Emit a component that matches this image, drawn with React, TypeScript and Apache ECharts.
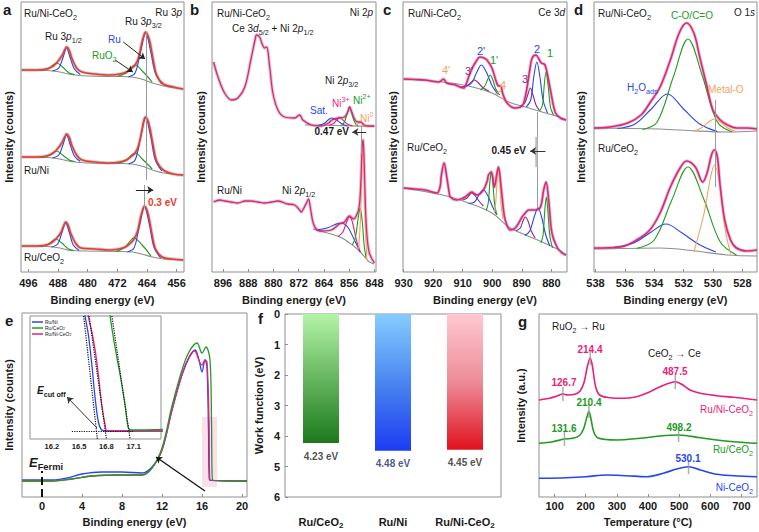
import React, { useEffect, useRef } from 'react';
import * as echarts from 'echarts';

const FONT = 'Arial, "Liberation Sans", Helvetica, sans-serif';
const RED = '#ef3a2e', MAG = '#ea1e7c', BLUE = '#2845f2', GREEN = '#229a22', ORANGE = '#f5a25d', PURPLE = '#8b2a8b';
const BGC = '#8e8e8e', RAW = 'rgba(150,150,150,0.45)', INK = '#1a1a1a', FRAME = '#8f8f8f';

// ---------- a: Ru 3p (binding energy eV, intensity a.u.) ----------
const aTicks = [496, 488, 480, 472, 464, 456];
const aEnv1 = [[497.8,202],[494,202],[491.1,203],[489.3,206],[488.4,209],[487.0,216],[486.2,222],[485.7,225],[485.0,222],[484.3,214],[483.0,204],[481.5,200],[478,198],[474,197],[471.3,198],[469.5,200],[468.1,204],[467.2,207],[466.3,214],[465.4,229],[464.8,237],[464.35,240],[463.8,237],[463.2,230],[462.3,212],[461.4,197],[459.6,188],[456.9,185],[454.2,183]];
const aBg1 = [[497.8,202],[491,201.5],[487.5,200],[484.5,197.5],[480,196],[472,195.5],[468,195],[465.5,193],[462.5,189],[459.5,186],[454.2,183]];
const aRuA1 = [[489.5,201],[487.8,204],[486.7,214],[485.7,224],[484.7,214],[483.6,203],[482,197.5]];
const aOxA1 = [[492.5,201.5],[490.5,203.5],[488.4,209],[486.8,205],[485,199],[483.5,197.5]];
const aRuB1 = [[469,195],[467.2,199],[465.8,219],[464.35,239],[463,221],[461.8,200],[460,188]];
const aOxB1 = [[472,195.5],[469.6,199],[467.2,207],[465,200],[462.6,190]];

const aEnv2 = [[497.8,115],[494,115],[491.1,116],[489.3,119],[488.4,122],[487.0,129],[486.2,135],[485.7,138],[485.0,135],[484.3,127],[483.0,117],[481.5,112],[478,110],[474,109],[471.3,110],[469.5,112],[468.1,116],[467.2,119],[466.3,126],[465.4,141],[464.8,152],[464.35,155],[463.8,152],[463.2,144],[462.3,126],[461.4,111],[459.6,102],[456.9,98],[454.2,97]];
const aBg2 = [[497.8,115],[491,114.5],[487.5,113],[484.5,110.5],[480,109],[472,108.5],[468,108],[465.5,106],[462.5,102],[459.5,99],[454.2,97]];
const aRuA2 = [[489.5,114],[487.8,117],[486.7,127],[485.7,137],[484.7,127],[483.6,116],[482,110.5]];
const aOxA2 = [[492.5,114.5],[490.5,116.5],[488.4,121],[486.8,117],[485,112],[483.5,110.5]];
const aRuB2 = [[469,108],[467.2,112],[465.8,133],[464.35,154],[463,136],[461.8,113],[460,101]];
const aOxB2 = [[472,108.5],[469.6,112],[467.2,119],[465,112],[462.6,103]];

const aEnv3 = [[497.8,26],[494,26],[491.1,27],[489.5,30],[488.6,33],[487.3,39],[486.5,46],[485.95,50],[485.3,47],[484.6,39],[483.3,29],[481.8,24],[478,23],[474,22],[471.6,23],[469.8,25],[468.4,29],[467.5,33],[466.6,40],[465.7,55],[465.1,63],[464.65,66],[464.1,63],[463.5,55],[462.6,37],[461.7,23],[459.9,15],[457.2,13],[454.2,12]];
const aBg3 = [[497.8,26],[491,25.5],[487.5,24],[484.5,21.5],[480,21],[472,20.5],[468,20],[465.5,18],[462.5,15],[459.5,13],[454.2,12]];
const aRuA3 = [[489.8,25],[488.1,28],[487,39],[485.95,49],[484.9,39],[483.9,27],[482.3,21.5]];
const aOxA3 = [[492.8,25.5],[490.8,27.5],[488.6,33],[487,29],[485.2,23],[483.7,21.5]];
const aRuB3 = [[469.3,20],[467.5,24],[466.1,45],[464.65,65],[463.3,47],[462.1,25],[460.3,14]];
const aOxB3 = [[472.3,20.5],[469.9,25],[467.5,34],[465.3,27],[462.9,16]];

// ---------- b: Ni 2p ----------
const bTicks = [896, 888, 880, 872, 864, 856, 848];
const bEnv1 = [[899,210],[897.6,195],[895.5,179],[893.3,172],[891.3,174],[889.1,185],[887,215],[885.8,233],[885.4,237],[884.4,235],[883.6,228],[882.8,224],[882.2,225],[881.2,205],[880.2,179],[878.6,162],[876.5,155],[873.3,154],[871.7,157],[870.7,152],[868,147],[865,146],[862.5,149],[861.5,152],[859.6,154],[857.5,155],[856.3,161],[855.9,165],[855.2,160],[854.3,153],[853.3,150],[852.4,150],[851.3,147],[850,146],[848,146]];
const bBg1 = [[870,147],[860,146.5],[848,145.5]];
const bSat1 = [[866,146.5],[864,148.5],[862.5,152.5],[861.5,154],[860,152],[858.5,148.5],[856.5,146]];
const bNi3p1 = [[862.5,146.5],[861,148.5],[859.8,152.5],[859,154],[858,152],[856.8,148.5],[855,146]];
const bNi2p1 = [[858.5,146.3],[857.5,150],[856.6,159],[855.9,165],[855.2,159],[854.3,150],[853.3,146]];
const bNi01 = [[854.5,146],[853.5,147.5],[852.9,149],[852.4,150],[851.9,149],[851.3,147.5],[850.3,145.7]];
const bEnv2 = [[899,70],[897,72],[895.5,71],[893.5,70],[891.3,69],[889,71],[887,71],[885,70],[882.8,69],[880.5,70],[878.6,71],[876.5,69],[875.4,68],[873.3,67],[872,63],[871.2,60],[870.2,65],[869.4,70],[868.9,73],[868.3,64],[867.5,50],[866.5,43],[864.9,41],[861.7,42],[859.1,48],[857.5,50],[855.9,56],[854.6,53],[853.5,58],[852.8,66],[852.3,90],[851.9,125],[851.6,132],[851.3,115],[850.9,70],[850.4,38],[849.6,19],[848,9]];
const bBg2 = [[867.5,43],[863.5,39.5],[860.7,37],[858,33.5],[855.9,29],[854,24.5],[852.2,19],[850.8,14],[849.6,10],[848,8]];
const bSat2 = [[866.5,42],[863,44],[860.5,47.5],[858.6,49],[856.5,45],[854.5,33],[852.5,20]];
const bNi3p2 = [[859.5,35.5],[858,40],[856.8,50],[855.9,55],[855,50],[853.8,33],[852.5,20]];
const bNi2p2 = [[855,27],[854,35],[853.1,55],[852.5,64],[851.9,52],[851.2,25],[850.6,14]];
const bNi02 = [[853,23],[852.4,55],[851.9,112],[851.6,128],[851.3,108],[850.9,50],[850.4,13]];

// ---------- c: Ce 3d ----------
const cTicks = [930, 920, 910, 900, 890, 880];
const cEnv1 = [[930,193],[926,192.5],[922.7,192],[918.2,190],[917.2,191.5],[916.5,193],[915.4,189],[912.5,187],[909.7,184],[908.7,189],[908,195],[906.9,203],[905.8,209],[904.1,215],[902.8,214],[901.8,212],[900.1,204],[898.6,190],[897.8,186],[897.2,186],[896.4,178],[895,169],[892.2,164],[889.9,166],[889,173],[888.2,185],[887.3,202],[886.5,214],[885.2,217],[884.2,213],[883.4,209],[882.5,208],[882,206],[881.2,196],[880.3,182],[878.6,159],[876.9,154],[875,152]];
const cBg1 = [[930,193],[916.8,190],[908,186],[900.1,179],[894.4,170],[888.8,165],[883.1,160],[877.4,155],[875,152]];
const c3p1 = [[910.5,185.5],[908.5,186.5],[907,190],[906,192],[904.8,189.5],[903.2,184.5],[901,180.5]];
const c2p1 = [[909.5,185],[907,189],[905.2,200],[903.7,207],[902,200],[900,186],[898,177.5]];
const c1p1 = [[904,182],[902.5,186],[901.5,193],[900.7,197],[899.8,192],[898.8,183],[897.5,177]];
const c4v1 = [[899,178],[898,179.5],[897.3,181],[896.5,178],[895.5,172.5]];
const c3v1 = [[890.5,166],[889,169],[888,177],[887.1,184],[886.2,177],[885.2,167],[884,161.5]];
const c2v1 = [[888.5,165],[887,172],[885.9,196],[884.9,210],[883.9,196],[882.8,172],[881.3,159]];
const c1v1 = [[884,161],[883,167],[882.4,187],[881.8,200],[881.1,187],[880.3,165],[879.3,157]];
const cEnv2 = [[930,84],[926,83],[922.7,82],[918.7,79],[917.6,86],[917.3,95],[916.3,109],[915.4,95],[914.6,80],[914.2,75],[912,72],[909.2,75],[906.9,80],[905.9,78],[905.2,77],[903,82],[901.6,92],[901.3,97],[900.3,100],[899.3,85],[898.4,99],[897.9,105],[897,85],[896.3,65],[895.6,52],[893.9,42],[892.2,44],[889.9,55],[888.8,59],[887.7,62],[885.4,62],[883.7,65],[882.6,82],[881.8,90],[880.9,72],[879.8,39],[878.1,25],[876.4,19],[875,17]];
const cBg2 = [[930,84],[916.8,77],[908,69],[900.1,59],[894.4,45],[888.8,37],[883.1,30],[877.4,22],[875,17]];
const c3p2 = [[910,72],[908.5,74],[907.7,77],[906.9,79],[906,77],[904.5,71],[903,66]];
const c2p2 = [[908,68.5],[906,70],[904.3,78],[903,82],[901.6,77],[900,66],[898.5,57]];
const c1p2 = [[902,61.5],[901.3,70],[900.8,90],[900.3,100],[899.8,90],[899.2,68],[898.4,57]];
const c4v2 = [[899.3,59],[898.8,70],[898.3,94],[897.9,104],[897.5,94],[897,68],[896.4,53]];
const c3v2 = [[892,41],[890.5,44],[889.6,51],[888.8,55],[887.9,51],[886.8,41],[885.5,34]];
const c2v2 = [[889,36.5],[887.3,41],[885.7,56],[884.5,64],[883.3,55],[882,38],[880.5,26]];
const c1v2 = [[883.5,29],[882.8,37],[882.2,62],[881.7,75],[881.2,62],[880.5,36],[879.6,24]];

// ---------- d: O 1s ----------
const dTicks = [538, 536, 534, 532, 530, 528];
const dEnv1 = [[538.1,144],[537,145],[535.8,149],[534.9,157],[534.3,169],[533.6,185],[532.9,212],[532.3,239],[531.8,249],[531.3,239],[530.9,215],[530.4,185],[530,162],[529.5,152],[529,147],[528.4,144],[527.7,144],[527,143]];
const dBg1 = [[538.1,144],[533.6,143],[531.2,141],[529,140],[527,141]];
const dH2O1 = [[536.5,143.5],[535.3,148],[534.2,163],[533.1,178],[532,163],[530.9,148],[529.7,140.5]];
const dCO1 = [[534.8,142.5],[533.8,150],[532.7,195],[531.7,233],[530.7,195],[529.7,150],[528.7,140]];
const dMO1 = [[531.3,141],[530.8,144],[530.3,150],[529.9,153],[529.5,150],[529,144],[528.4,140]];
const dEnv2 = [[538.1,24],[536.3,25],[535.2,32],[534.3,42],[533.6,59],[532.9,85],[532.2,105],[531.8,111],[531.2,105],[530.7,90],[530.4,99],[530.1,117],[529.9,122],[529.7,115],[529.5,85],[529.2,52],[528.8,32],[528.4,24],[527.7,21],[527,22]];
const dBg2 = [[538.1,23],[533.6,24],[531.2,21],[529,17],[527,16]];
const dH2O2 = [[536.8,24.5],[535.4,29],[534.3,39],[533.2,48],[532.1,39],[531,28],[529.8,20]];
const dCO2 = [[535.2,23.5],[534,32],[532.8,72],[531.7,105],[530.6,72],[529.5,30],[528.4,17]];
const dMO2 = [[531.3,20],[530.6,59],[530.2,92],[529.9,107],[529.5,85],[529.2,45],[528.8,18]];

// ---------- e: UPS ----------
const eTicks = [0, 4, 8, 12, 16, 20];
const eRuNi = [[-2,17],[1,17],[2.5,19],[4,23],[6,25],[8,25],[10,24],[11,30],[12,47],[13,87],[14,122],[14.7,139],[15.3,147],[15.7,137],[16.0,125],[16.3,137],[16.5,129],[16.65,67],[16.75,17],[20.5,16]];
const eRuCe = [[-2,16],[1,16],[3,18],[5,21],[8,22],[10,22],[11,29],[12,49],[13,91],[14,127],[14.7,145],[15.5,154],[16.0,144],[16.4,150],[16.8,137],[16.95,77],[17.05,17],[20.5,16]];
const eRuNiCe = [[-2,16],[1,16],[3,18],[5,21],[8,22],[10,22],[11,29],[12,47],[13,87],[14,123],[14.7,140],[15.25,146],[15.8,134],[16.0,132],[16.3,137],[16.5,135],[16.7,77],[16.8,17],[20.5,16]];
const insetTicks = [16.2, 16.5, 16.8, 17.1];
const inRuNi = [[16.55,140],[16.566,123],[16.602,104],[16.64,74],[16.676,41],[16.712,17],[16.749,9],[16.8,8],[17.42,8]];
const inRuNiCe = [[16.58,140],[16.6,123],[16.64,107],[16.676,89],[16.712,64],[16.749,34],[16.786,14],[16.811,8],[17.42,8]];
const inRuCe = [[16.83,140],[16.841,123],[16.896,91],[16.951,64],[17.005,34],[17.042,11],[17.079,9],[17.42,9.5]];

// ---------- f: work function ----------
const fCats = ['Ru/CeO2', 'Ru/Ni', 'Ru/Ni-CeO2'];
const fValues = [4.23, 4.48, 4.45];

// ---------- g: H2-TPR ----------
const gTicks = [100, 200, 300, 400, 500, 600, 700];
const gRuNiCe = [[50,97],[84,98.7],[110,101.3],[126.7,103],[143,102],[165,102.7],[182,106],[195,115],[205,130],[214.4,139],[222,130],[232,110],[245,102],[277,99.3],[320,98.7],[363,100.3],[395,103.7],[428,108.7],[460,113],[487.5,115.3],[508,112.7],[535,107],[568,103.7],[621,101.3],[675,99.7],[750,97]];
const gRuCe = [[50,53.7],[94,55.3],[131.6,58],[159,58.7],[180,61.5],[193,68],[203,79],[210.4,85.5],[217,78],[226,65],[240,59],[299,57],[374,58.7],[438,61],[498.2,62],[568,59.3],[621,57],[675,55.3],[750,53.7]];
const gNiCe = [[50,18.7],[137,19.3],[202,20.3],[266,22],[331,21.3],[395,20.3],[449,23.7],[492,28],[530.1,30.3],[568,27],[621,22.7],[675,21.3],[750,20.3]];
const gPeaksMag = [[126.7,103],[214.4,139],[487.5,115]];
const gPeaksGrn = [[131.6,58],[210.4,86],[498.2,62]];
const gPeaksBlu = [[530.1,30]];

// ---------- helpers ----------
const L = (g: number, data: number[][], color: string, width = 1.1, z = 3, extra: any = {}) => ({
  type: 'line', xAxisIndex: g, yAxisIndex: g, data, symbol: 'none', showSymbol: false, smooth: 0.35,
  lineStyle: { color, width }, itemStyle: { color }, z, silent: true, ...extra,
});
const SEG = (g: number, a: number[], b: number[], color = '#333', o: any = {}) => ({
  type: 'lines', coordinateSystem: 'cartesian2d', xAxisIndex: g, yAxisIndex: g, polyline: false,
  symbol: o.arrow ? ['none', 'arrow'] : ['none', 'none'], symbolSize: o.arrow ? 6 : 1,
  lineStyle: { color, width: o.width ?? 1, opacity: 1, curveness: 0, type: o.type ?? 'solid' },
  data: [{ coords: [a, b] }], z: o.z ?? 6, silent: true,
});
const fit = (g: number, env: number[][], bg: number[][], comps: [number[][], string][], ec: string, ew: number) => [
  L(g, env, RAW, 3.4, 2),
  L(g, bg, BGC, 1.1, 3),
  ...comps.map(([d, c]) => L(g, d, c, 1.1, 3)),
  L(g, env, ec, ew, 4),
];

const tx = (x: number, y: number, text: string, o: any = {}) => {
  const size = o.size ?? 10;
  const color = o.color ?? INK;
  const lh = o.lh ?? size * 1.5;
  const base = { fontFamily: FONT, fontWeight: o.bold ? 'bold' : 'normal', fill: color };
  return {
    type: 'text', x, y, z: 50, silent: true, rotation: o.rot ?? 0,
    style: {
      text, ...base, fontSize: size, lineHeight: lh,
      align: o.align ?? 'left', verticalAlign: 'middle', textAlign: o.align ?? 'left', textVerticalAlign: 'middle',
      rich: {
        s: { ...base, fontSize: size * 0.72, lineHeight: size * 0.8, verticalAlign: 'bottom' },
        u: { ...base, fontSize: size * 0.72, lineHeight: size * 0.8, verticalAlign: 'top' },
        i: { ...base, fontSize: size, fontStyle: 'italic', lineHeight: lh },
      },
    },
  };
};

const lbl = { fontFamily: FONT, fontSize: 11, fontWeight: 'bold', color: INK };
const xVal = (g: number, min: number, max: number, labels: number[], inv: boolean, name: string, o: any = {}) => ({
  gridIndex: g, type: 'value', min, max, inverse: inv,
  axisLine: { show: false }, splitLine: { show: false },
  axisTick: { show: o.ticks !== false, inside: true, length: 3, lineStyle: { color: FRAME }, customValues: labels },
  axisLabel: { ...lbl, fontSize: o.fs ?? 11, margin: o.margin ?? 5, customValues: labels, formatter: (v: number) => (o.dec ? v.toFixed(o.dec) : String(v)) },
  name, nameLocation: 'middle', nameGap: o.gap ?? 22, nameTextStyle: { ...lbl },
});
const yHid = (g: number, max: number, name: string, gap: number) => ({
  gridIndex: g, type: 'value', min: 0, max,
  axisLine: { show: false }, axisTick: { show: false }, axisLabel: { show: false }, splitLine: { show: false },
  name, nameLocation: 'middle', nameRotate: 90, nameGap: gap, nameTextStyle: { ...lbl },
});

function buildOption() {
  const grids = [
    { left: 21, top: 2, width: 163, height: 270 },
    { left: 212, top: 2, width: 164, height: 270 },
    { left: 403, top: 2, width: 164, height: 270 },
    { left: 594, top: 2, width: 163, height: 270 },
    { left: 22, top: 313, width: 225, height: 184 },
    { left: 30, top: 316, width: 131, height: 123 },
    { left: 285, top: 314, width: 216, height: 183 },
    { left: 539, top: 314, width: 218, height: 183 },
  ].map((g, i) => ({ ...g, show: true, borderColor: FRAME, borderWidth: 1, backgroundColor: i === 5 ? '#fff' : 'transparent', z: i === 5 ? 8 : 0 }));

  const xAxis = [
    xVal(0, 454, 498, aTicks, true, 'Binding energy (eV)'),
    xVal(1, 847.5, 899.5, bTicks, true, 'Binding energy (eV)'),
    xVal(2, 874.7, 930.2, cTicks, true, 'Binding energy (eV)'),
    xVal(3, 527, 538.1, dTicks, true, 'Binding energy (eV)'),
    xVal(4, -2, 20.5, eTicks, false, 'Binding energy (eV)', { margin: 3, gap: 19 }),
    { ...xVal(5, 15.96, 17.4, insetTicks, false, '', { fs: 7.5, margin: 3, dec: 1, ticks: false }), z: 9 },
    {
      gridIndex: 6, type: 'category', data: fCats, boundaryGap: true,
      axisLine: { show: false }, axisTick: { show: false }, splitLine: { show: false },
      axisLabel: {
        ...lbl, margin: 18, lineHeight: 14, interval: 0, hideOverlap: false,
        formatter: (v: string) => v.replace('CeO2', 'CeO{s|2}'),
        rich: { s: { fontFamily: FONT, fontWeight: 'bold', fontSize: 8, lineHeight: 9, verticalAlign: 'bottom', color: INK } },
      },
    },
    xVal(7, 50, 750, gTicks, false, 'Temperature (°C)', { margin: 3, gap: 19 }),
  ];
  const yAxis = [
    yHid(0, 270, 'Intensity (counts)', 7),
    yHid(1, 270, 'Intensity (counts)', 6),
    yHid(2, 270, 'Intensity (counts)', 5),
    yHid(3, 270, 'Intensity (counts)', 8),
    yHid(4, 184, 'Intensity (counts)', 8),
    { ...yHid(5, 123, '', 0), name: '' },
    {
      gridIndex: 6, type: 'value', min: 0, max: 6, interval: 1, inverse: true,
      axisLine: { show: false }, splitLine: { show: false },
      axisTick: { show: true, inside: true, length: 3, lineStyle: { color: FRAME } },
      axisLabel: { ...lbl, margin: 5 },
      name: 'Work function (eV)', nameLocation: 'middle', nameRotate: 90, nameGap: 21, nameTextStyle: { ...lbl },
    },
    yHid(7, 183, 'Intensity (a.u.)', 13),
  ];

  const grad = (top: string, mid: string, bottom: string) =>
    new echarts.graphic.LinearGradient(0, 0, 0, 1, [
      { offset: 0, color: top }, { offset: 0.5, color: mid }, { offset: 1, color: bottom },
    ]);
  const barColors = [grad('#b4f4a8', '#66b560', '#1c7a1c'), grad('#86ccff', '#4a86f0', '#1d3cf2'), grad('#ffc8d0', '#ec8c98', '#e0121e')];
  const fLabelColors = ['#222', '#1d2a70', '#222'];

  const series: any[] = [
    // a
    ...fit(0, aEnv1, aBg1, [[aOxA1, GREEN], [aOxB1, GREEN], [aRuA1, BLUE], [aRuB1, BLUE]], RED, 1.6),
    ...fit(0, aEnv2, aBg2, [[aOxA2, GREEN], [aOxB2, GREEN], [aRuA2, BLUE], [aRuB2, BLUE]], RED, 1.6),
    ...fit(0, aEnv3, aBg3, [[aOxA3, GREEN], [aOxB3, GREEN], [aRuA3, BLUE], [aRuB3, BLUE]], RED, 1.6),
    SEG(0, [464.3, 240], [464.3, 92], '#999'),
    SEG(0, [464.75, 87], [464.75, 64], '#999'),
    SEG(0, [467.0, 82], [462.3, 82], '#222', { arrow: true }),
    SEG(0, [470.4, 230], [464.5, 213], '#222', { arrow: true }),
    SEG(0, [472.6, 212], [467.8, 200], '#222', { arrow: true }),
    // b
    ...fit(1, bEnv1, bBg1, [[bSat1, BLUE], [bNi3p1, MAG], [bNi2p1, GREEN], [bNi01, ORANGE]], MAG, 1.3),
    ...fit(1, bEnv2, bBg2, [[bSat2, BLUE], [bNi3p2, MAG], [bNi2p2, GREEN], [bNi02, ORANGE]], MAG, 1.3),
    SEG(1, [852.2, 146], [852.2, 118], '#999'),
    SEG(1, [850.6, 140], [855.0, 140], '#333', { arrow: true }),
    // c
    ...fit(2, cEnv1, cBg1, [[c3p1, PURPLE], [c3v1, PURPLE], [c2p1, BLUE], [c2v1, BLUE], [c1p1, GREEN], [c1v1, GREEN], [c4v1, ORANGE]], MAG, 1.6),
    ...fit(2, cEnv2, cBg2, [[c3p2, PURPLE], [c3v2, PURPLE], [c2p2, BLUE], [c2v2, BLUE], [c1p2, GREEN], [c1v2, GREEN], [c4v2, ORANGE]], MAG, 1.6),
    SEG(2, [884.6, 160], [884.6, 64], '#999'),
    SEG(2, [885.0, 135], [885.0, 105], '#bbb', { width: 2.5 }),
    SEG(2, [882.0, 121], [887.2, 121], '#333', { arrow: true }),
    // d
    ...fit(3, dEnv1, dBg1, [[dH2O1, BLUE], [dCO1, GREEN], [dMO1, ORANGE]], MAG, 1.6),
    ...fit(3, dEnv2, dBg2, [[dH2O2, BLUE], [dCO2, GREEN], [dMO2, ORANGE]], MAG, 1.6),
    SEG(3, [529.85, 172], [529.85, 85], '#999'),
    // e
    L(4, eRuNi, BLUE, 1.3, 3, {
      markArea: { silent: true, itemStyle: { color: 'rgba(240,170,185,0.35)' }, data: [[{ coord: [16.0, 10] }, { coord: [17.5, 80] }]] },
    }),
    L(4, eRuNiCe, MAG, 1.3, 3),
    L(4, eRuCe, GREEN, 1.3, 3),
    SEG(4, [0, 0], [0, 26], '#111', { type: 'dashed', width: 2 }),
    SEG(4, [16.3, 6], [11.4, 40], '#111', { arrow: true, width: 1.3 }),
    // inset
    L(5, inRuNi, BLUE, 1.3, 10),
    L(5, inRuNiCe, MAG, 1.3, 10),
    L(5, inRuCe, GREEN, 1.3, 10),
    SEG(5, [16.55, 123], [16.70, 0], '#111', { type: 'dotted', width: 1.2, z: 12 }),
    SEG(5, [16.61, 123], [16.80, 0], '#111', { type: 'dotted', width: 1.2, z: 12 }),
    SEG(5, [16.86, 123], [17.06, 0], '#111', { type: 'dotted', width: 1.2, z: 12 }),
    SEG(5, [16.42, 8], [17.1, 8], '#111', { type: 'dotted', width: 1.2, z: 12 }),
    SEG(5, [16.696, 11], [16.367, 42], '#333', { arrow: true, z: 12 }),
    // f
    {
      type: 'bar', xAxisIndex: 6, yAxisIndex: 6, barWidth: 36, silent: true,
      data: fValues.map((v, i) => ({ value: v, itemStyle: { color: barColors[i] } })),
    },
    {
      type: 'scatter', xAxisIndex: 6, yAxisIndex: 6, symbolSize: 0, silent: true,
      data: fValues.map((v, i) => ({
        value: [i, v],
        label: { show: true, position: 'bottom', distance: 8, formatter: `${v.toFixed(2)} eV`, fontFamily: FONT, fontWeight: 'bold', fontSize: 10, color: fLabelColors[i] },
      })),
    },
    // g
    L(7, gRuNiCe, MAG, 1.6, 3),
    L(7, gRuCe, GREEN, 1.6, 3),
    L(7, gNiCe, BLUE, 1.6, 3),
    {
      type: 'scatter', xAxisIndex: 7, yAxisIndex: 7, symbol: 'rect', symbolSize: [1.5, 14], silent: true, z: 5,
      itemStyle: { color: '#9a9a9a' }, data: [...gPeaksMag, ...gPeaksGrn, ...gPeaksBlu],
    },
  ];

  const g = (x1: number, y1: number, x2: number, y2: number, c: string) => ({
    type: 'line', z: 50, silent: true, shape: { x1, y1, x2, y2 }, style: { stroke: c, lineWidth: 1.5 },
  });

  const graphic = [
    // a
    tx(3, 9, 'a', { size: 15, bold: true }),
    tx(24, 13, 'Ru/Ni-CeO{s|2}'),
    tx(182, 12, 'Ru 3{i|p}', { align: 'right' }),
    tx(125, 21, 'Ru 3{i|p}{s|3/2}'),
    tx(45, 36, 'Ru 3{i|p}{s|1/2}'),
    tx(108, 39, 'Ru', { color: BLUE }),
    tx(92, 55, 'RuO{s|2}', { color: GREEN }),
    tx(24, 170, 'Ru/Ni'),
    tx(24, 257, 'Ru/CeO{s|2}'),
    tx(148, 202, '0.3 eV', { bold: true, color: RED }),
    // b
    tx(190, 9, 'b', { size: 15, bold: true }),
    tx(217, 13, 'Ru/Ni-CeO{s|2}'),
    tx(373, 12, 'Ni 2{i|p}', { align: 'right' }),
    tx(232, 28, 'Ce 3{i|d}{s|5/2} + Ni 2{i|p}{s|1/2}'),
    tx(325, 80, 'Ni 2{i|p}{s|3/2}'),
    tx(310, 110, 'Sat.', { color: BLUE }),
    tx(332, 103, 'Ni{u|3+}', { color: MAG }),
    tx(353, 100, 'Ni{u|2+}', { color: GREEN }),
    tx(360, 118, 'Ni{u|0}', { color: ORANGE }),
    tx(349, 131, '0.47 eV', { bold: true, align: 'right' }),
    tx(217, 190, 'Ru/Ni'),
    tx(282, 190, 'Ni 2{i|p}{s|1/2}'),
    // c
    tx(383, 9, 'c', { size: 15, bold: true }),
    tx(408, 13, 'Ru/Ni-CeO{s|2}'),
    tx(565, 12, 'Ce 3{i|d}', { align: 'right' }),
    tx(442, 70, "4'", { color: ORANGE, size: 11 }),
    tx(465, 71, "3'", { color: PURPLE, size: 11 }),
    tx(477, 51, "2'", { color: BLUE, size: 11 }),
    tx(490, 60, "1'", { color: GREEN, size: 11 }),
    tx(500, 85, '4', { color: ORANGE, size: 11 }),
    tx(522, 79, '3', { color: PURPLE, size: 11 }),
    tx(534, 49, '2', { color: BLUE, size: 11 }),
    tx(547, 53, '1', { color: GREEN, size: 11 }),
    tx(526, 150, '0.45 eV', { bold: true, align: 'right' }),
    tx(407, 147, 'Ru/CeO{s|2}'),
    // d
    tx(574, 9, 'd', { size: 15, bold: true }),
    tx(598, 13, 'Ru/Ni-CeO{s|2}'),
    tx(692, 15, 'C-O/C=O', { color: GREEN, align: 'center' }),
    tx(755, 12, 'O 1{i|s}', { align: 'right' }),
    tx(627, 87, 'H{s|2}O{s|ads}', { color: BLUE }),
    tx(708, 89, 'Metal-O', { color: ORANGE }),
    tx(598, 148, 'Ru/CeO{s|2}'),
    // e
    tx(5, 320, 'e', { size: 15, bold: true }),
    tx(29, 462, '{i|E}{s|Fermi}', { size: 13, bold: true }),
    tx(37, 390, '{i|E}{s|cut off}', { size: 10, bold: true }),
    g(32, 322, 43, 322, BLUE), g(32, 328, 43, 328, GREEN), g(32, 334, 43, 334, MAG),
    tx(45, 322, 'Ru/Ni', { size: 5, lh: 5.5 }),
    tx(45, 328, 'Ru/CeO{s|2}', { size: 5, lh: 5.5 }),
    tx(45, 334, 'Ru/Ni-CeO{s|2}', { size: 5, lh: 5.5 }),
    // f
    tx(258, 318, 'f', { size: 15, bold: true }),
    // g
    tx(518, 321, 'g', { size: 15, bold: true }),
    tx(552, 326, 'RuO{s|2} → Ru'),
    tx(648, 353, 'CeO{s|2} → Ce'),
    tx(590, 349, '214.4', { bold: true, color: MAG, align: 'center' }),
    tx(564, 382, '126.7', { bold: true, color: MAG, align: 'center' }),
    tx(675, 371, '487.5', { bold: true, color: MAG, align: 'center' }),
    tx(589, 402, '210.4', { bold: true, color: GREEN, align: 'center' }),
    tx(564, 428, '131.6', { bold: true, color: GREEN, align: 'center' }),
    tx(679, 427, '498.2', { bold: true, color: GREEN, align: 'center' }),
    tx(688, 458, '530.1', { bold: true, color: BLUE, align: 'center' }),
    tx(753, 409, 'Ru/Ni-CeO{s|2}', { color: MAG, align: 'right' }),
    tx(753, 449, 'Ru/CeO{s|2}', { color: GREEN, align: 'right' }),
    tx(753, 487, 'Ni-CeO{s|2}', { color: BLUE, align: 'right' }),
  ];

  return {
    animation: false,
    backgroundColor: '#fff',
    textStyle: { fontFamily: FONT },
    grid: grids, xAxis, yAxis, series, graphic,
  };
}

export default function App() {
  const ref = useRef<HTMLDivElement>(null);
  useEffect(() => {
    if (!ref.current) return;
    const chart = echarts.init(ref.current, undefined, { renderer: 'svg' });
    chart.setOption(buildOption() as any);
    return () => chart.dispose();
  }, []);
  return <div ref={ref} style={{ position: 'fixed', left: 0, top: 0, width: 759, height: 532, background: '#fff' }} />;
}
